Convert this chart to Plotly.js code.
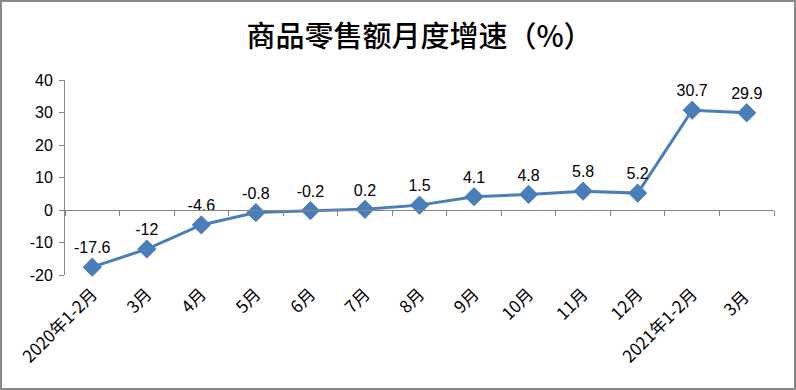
<!DOCTYPE html>
<html><head><meta charset="utf-8">
<script src="https://cdn.plot.ly/plotly-3.0.1.min.js"></script>
<style>
html,body{margin:0;padding:0;background:#fff;}
#wrap{position:relative;width:796px;height:390px;}
#chart{position:absolute;left:0;top:0;width:796px;height:390px;}
#frame{position:absolute;left:0;top:0;width:796px;height:390px;box-sizing:border-box;border:2px solid #898989;pointer-events:none;}
</style></head>
<body>
<div id="wrap"><div id="chart"></div><div id="frame"></div></div>
<script>
const categories = ["2020年1-2月","3月","4月","5月","6月","7月","8月","9月","10月","11月","12月","2021年1-2月","3月 "];
const values = [-17.6, -12, -4.6, -0.8, -0.2, 0.2, 1.5, 4.1, 4.8, 5.8, 5.2, 30.7, 29.9];
const valueLabels = ["-17.6","-12","-4.6","-0.8","-0.2","0.2","1.5","4.1","4.8","5.8","5.2","30.7","29.9"];
const yTicks = [-20, -10, 0, 10, 20, 30, 40];
const titleText = "商品零售额月度增速（%）";

const yMin = -20, yMax = 40;
const trace = {
  type: 'scatter', mode: 'lines+markers+text',
  x: categories, y: values, text: valueLabels,
  textposition: 'top center',
  textfont: {family: 'Liberation Sans, Arial', size: 16, color: '#000'},
  line: {color: '#4A7EBB', width: 3},
  marker: {symbol: 'diamond', size: 14, color: '#4A7EBB', line: {color: '#4A7EBB', width: 1}},
  cliponaxis: false, hoverinfo: 'none', xaxis: 'x', yaxis: 'y'
};
const axisTrace = {
  type: 'scatter', mode: 'none', x: categories, y: values, xaxis: 'x2', yaxis: 'y', hoverinfo: 'none', showlegend: false
};
const layout = {
  width: 796, height: 390,
  margin: {l: 65, r: 22, t: 80, b: 115},
  paper_bgcolor: '#fff', plot_bgcolor: '#fff',
  showlegend: false,
  title: {text: titleText, x: 0.5, xref: 'paper', y: 0.905, yref: 'container', yanchor: 'middle',
          font: {family: 'Noto Sans CJK SC', size: 29, color: '#000', weight: 500}},
  xaxis: {type: 'category', showline: false, ticks: '', showgrid: false, zeroline: false,
          tickangle: -45, tickfont: {family: 'Noto Sans CJK SC', size: 17, color: '#000'},
          ticklabelstandoff: 5,
          range: [-0.5, categories.length - 0.5], anchor: 'y'},
  xaxis2: {type: 'category', overlaying: 'x', anchor: 'free',
           position: (0 - yMin) / (yMax - yMin),
           showline: true, linecolor: '#868686', linewidth: 1,
           ticks: 'outside', ticklen: 5, tickcolor: '#868686', tickson: 'boundaries',
           showticklabels: false, showgrid: false, zeroline: false,
           range: [-0.5, categories.length - 0.5]},
  yaxis: {range: [yMin, yMax], tickvals: yTicks, ticktext: yTicks.map(String),
          showline: true, linecolor: '#868686', linewidth: 1,
          ticks: 'outside', ticklen: 5, tickcolor: '#868686',
          showgrid: false, zeroline: false, ticklabelstandoff: 3,
          tickfont: {family: 'Liberation Sans, Arial', size: 16, color: '#000'}}
};
Plotly.newPlot('chart', [axisTrace, trace], layout, {displayModeBar: false, staticPlot: true});
</script>
</body></html>
